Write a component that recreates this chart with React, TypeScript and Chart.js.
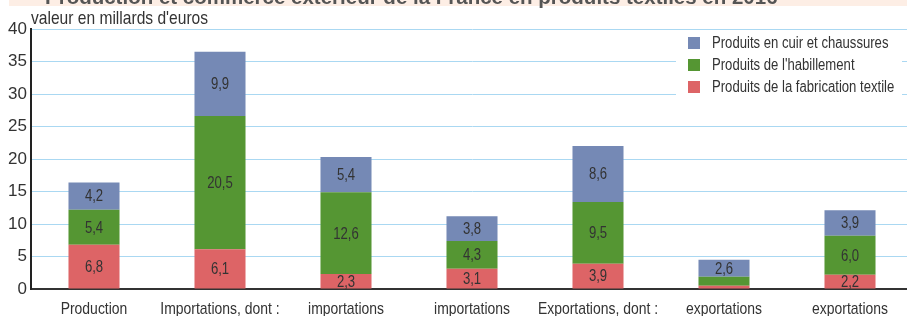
import React, { useEffect, useRef } from "react";
import { Chart, registerables } from "chart.js";

Chart.register(...registerables);

const titleText = "Production et commerce extérieur de la France en produits textiles en 2016";
const yAxisTitle = "valeur en millards d'euros";
const categories = [
  "Production",
  "Importations, dont :",
  "importations",
  "importations",
  "Exportations, dont :",
  "exportations",
  "exportations",
];
const textile = [6.8, 6.1, 2.3, 3.1, 3.9, 0.5, 2.2];
const habillement = [5.4, 20.5, 12.6, 4.3, 9.5, 1.4, 6.0];
const cuir = [4.2, 9.9, 5.4, 3.8, 8.6, 2.6, 3.9];
const seriesNames = [
  "Produits de la fabrication textile",
  "Produits de l'habillement",
  "Produits en cuir et chaussures",
];
const colors = ["#dd6466", "#559633", "#7589b5"];
const yTicks = [0, 5, 10, 15, 20, 25, 30, 35, 40];

const SANS = "'Liberation Sans', Arial, sans-serif";
const NARROW_SCALE = 0.82;

function narrowText(ctx: CanvasRenderingContext2D, text: string, x: number, y: number, size: number, align: CanvasTextAlign, baseline: CanvasTextBaseline) {
  ctx.save();
  ctx.translate(x, y);
  ctx.scale(NARROW_SCALE, 1);
  ctx.font = `${size}px ${SANS}`;
  ctx.textAlign = align;
  ctx.textBaseline = baseline;
  ctx.fillText(text, 0, 0);
  ctx.restore();
}

const overlayPlugin = {
  id: "overlay",
  afterDatasetsDraw(chart: any) {
    const ctx = chart.ctx;
    ctx.save();
    // data labels
    ctx.fillStyle = "#333";
    chart.data.datasets.forEach((ds: any, di: number) => {
      const meta = chart.getDatasetMeta(di);
      meta.data.forEach((el: any, i: number) => {
        const v = ds.data[i];
        if (v < 2) return;
        const y = (el.y + el.base) / 2 + 1;
        narrowText(ctx, v.toFixed(1).replace(".", ","), el.x, y, 16, "center", "middle");
      });
    });
    // category labels
    const xs = chart.scales.x;
    chart.data.labels.forEach((lab: string, i: number) => {
      ctx.fillStyle = "#333";
      narrowText(ctx, lab, xs.getPixelForTick(i), xs.top + 20, 17, "center", "middle");
    });
    // legend
    ctx.fillStyle = "#ffffff";
    ctx.fillRect(676, 31, 226, 66);
    const n = chart.data.datasets.length;
    for (let k = 0; k < n; k++) {
      const di = n - 1 - k;
      const ds = chart.data.datasets[di];
      const cy = 43 + k * 22;
      ctx.fillStyle = ds.backgroundColor;
      ctx.fillRect(688, cy - 6, 12, 12);
      ctx.fillStyle = "#333";
      narrowText(ctx, ds.label, 712, cy + 1, 16, "left", "middle");
    }
    // y axis title
    ctx.fillStyle = "#333";
    narrowText(ctx, yAxisTitle, 31, 24, 19, "left", "alphabetic");
    // main title band
    ctx.fillStyle = "#fdeee5";
    ctx.fillRect(9, 0, 904, 6);
    ctx.font = `bold 20.5px ${SANS}`;
    ctx.textAlign = "left";
    ctx.textBaseline = "alphabetic";
    ctx.fillStyle = "#555";
    ctx.fillText(titleText, 45, 4);
    ctx.restore();
  },
};

export default function App() {
  const ref = useRef<HTMLCanvasElement | null>(null);
  useEffect(() => {
    if (!ref.current) return;
    const chart = new Chart(ref.current, {
      type: "bar",
      data: {
        labels: categories,
        datasets: [
          { label: seriesNames[0], data: textile, backgroundColor: colors[0] },
          { label: seriesNames[1], data: habillement, backgroundColor: colors[1] },
          { label: seriesNames[2], data: cuir, backgroundColor: colors[2] },
        ],
      },
      options: {
        animation: false,
        responsive: false,
        maintainAspectRatio: false,
        layout: { padding: { top: 29, left: 0, right: 0, bottom: 0 } },
        plugins: { legend: { display: false }, tooltip: { enabled: false }, title: { display: false } },
        datasets: { bar: { categoryPercentage: 1, barPercentage: 0.405 } },
        scales: {
          x: {
            stacked: true,
            grid: { display: false, drawTicks: false },
            border: { display: true, color: "#333", width: 2 },
            ticks: { display: false, autoSkip: false },
            afterFit(scale: any) {
              scale.height = 41;
            },
          },
          y: {
            stacked: true,
            min: 0,
            max: 40,
            afterBuildTicks(scale: any) {
              scale.ticks = yTicks.map((v) => ({ value: v }));
            },
            grid: { color: "#aad8f2", lineWidth: 1, drawTicks: false },
            border: { display: true, color: "#222", width: 2 },
            ticks: {
              color: "#333",
              font: { family: SANS, size: 17 },
              padding: 4,
            },
            afterFit(scale: any) {
              scale.width = 31;
            },
          },
        },
      },
      plugins: [overlayPlugin],
    });
    return () => chart.destroy();
  }, []);
  return (
    <div style={{ position: "fixed", left: 0, top: 0, width: 907, height: 316, overflow: "hidden", background: "#fff" }}>
      <canvas ref={ref} width={913} height={330} style={{ display: "block", width: 913, height: 330 }} />
    </div>
  );
}
